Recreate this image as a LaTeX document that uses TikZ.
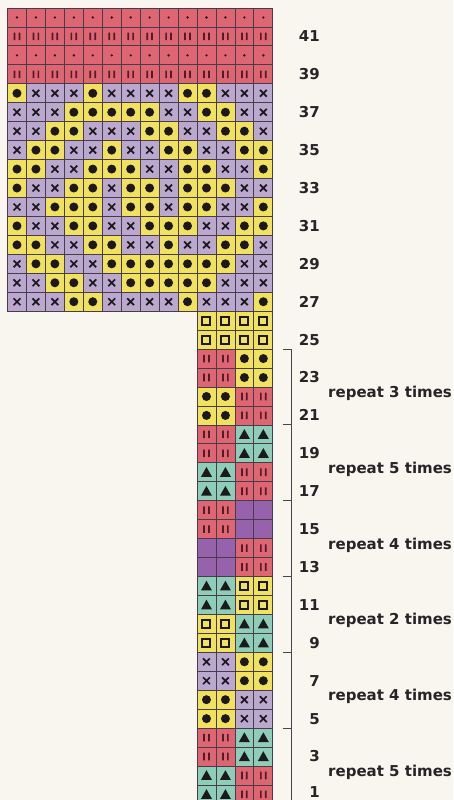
\documentclass[tikz,border=0pt]{standalone}
\usepackage{fontspec}
\setmainfont{DejaVu Sans}
\definecolor{bg}{RGB}{248,246,238}
\definecolor{pk}{RGB}{222,102,114}
\definecolor{yl}{RGB}{240,226,94}
\definecolor{lv}{RGB}{186,168,206}
\definecolor{tl}{RGB}{142,206,184}
\definecolor{pu}{RGB}{150,98,172}
\definecolor{gl}{RGB}{72,60,74}
\definecolor{sym}{RGB}{28,24,28}
\definecolor{bar}{RGB}{80,28,38}
\definecolor{txt}{RGB}{38,36,38}
\def\S{18.95}
\def\gx{7.5}
\def\gy{8}
\def\h{9.475}
\tikzset{
  cellline/.style={draw=gl,line width=0.8pt},
  num/.style={font=\bfseries\fontsize{15}{18}\selectfont,text=txt,inner sep=0pt},
  rep/.style={font=\bfseries\fontsize{15}{18}\selectfont,text=txt,inner sep=0pt,anchor=base west},
  brk/.style={draw=txt!85,line width=0.9pt}
}
\newcommand\bgcell[1]{\filldraw[fill=#1,cellline] (-\h,-\h) rectangle (\h,\h);}
\newcommand\symP{\bgcell{pk}\fill[sym] (0,0) circle (1.3pt);}
\newcommand\symB{\bgcell{pk}\fill[bar] (-3.3,-3.8) rectangle (-1.6,3.8) (1.6,-3.8) rectangle (3.3,3.8);}
\newcommand\symD{\bgcell{yl}\fill[sym] (0,0) circle (4.5pt);}
\newcommand\symX{\bgcell{lv}\draw[sym,line width=1.7pt] (-3.4,-3.4) -- (3.4,3.4) (-3.4,3.4) -- (3.4,-3.4);}
\newcommand\symQ{\bgcell{yl}\draw[sym,line width=2pt] (-4,-4) rectangle (4,4);}
\newcommand\symT{\bgcell{tl}\fill[sym] (-5.5,4.5) -- (5.5,4.5) -- (0,-5.3) -- cycle;}
\newcommand\symU{\bgcell{pu}}
\newcommand\cellat[3]{%
  \pgfmathsetmacro\cx{\gx+(#1-0.5)*\S}%
  \pgfmathsetmacro\cy{\gy+(42-#2+0.5)*\S}%
  \begin{scope}[shift={(\cx,\cy)}]\csname sym#3\endcsname\end{scope}}
\begin{document}
\begin{tikzpicture}[x=1pt,y=-1pt]
\useasboundingbox (0,0) rectangle (453,800);
\fill[bg] (0,0) rectangle (453,800);
% top chart
\foreach \r/\row in {
 42/{P,P,P,P,P,P,P,P,P,P,P,P,P,P},
 41/{B,B,B,B,B,B,B,B,B,B,B,B,B,B},
 40/{P,P,P,P,P,P,P,P,P,P,P,P,P,P},
 39/{B,B,B,B,B,B,B,B,B,B,B,B,B,B},
 38/{D,X,X,X,D,X,X,X,X,D,D,X,X,X},
 37/{X,X,X,D,D,D,D,D,X,X,D,D,X,X},
 36/{X,X,D,D,X,X,X,D,D,X,X,D,D,X},
 35/{X,D,D,X,X,D,X,X,D,D,X,X,D,D},
 34/{D,D,X,X,D,D,D,X,X,D,D,X,X,D},
 33/{D,X,X,D,D,X,D,D,X,D,D,D,X,X},
 32/{X,X,D,D,D,X,D,D,X,D,D,X,X,D},
 31/{D,X,X,D,D,X,X,D,D,D,X,X,D,D},
 30/{D,D,X,X,D,D,X,X,D,X,X,D,D,X},
 29/{X,D,D,X,X,D,D,D,D,D,D,D,X,X},
 28/{X,X,D,D,X,X,D,D,D,D,D,X,X,X},
 27/{X,X,X,D,D,X,X,X,X,D,X,X,X,D}}{
  \foreach \t [count=\c] in \row {\cellat{\c}{\r}{\t}}
}
% strip
\foreach \r/\row in {
 26/{Q,Q,Q,Q},25/{Q,Q,Q,Q},
 24/{B,B,D,D},23/{B,B,D,D},
 22/{D,D,B,B},21/{D,D,B,B},
 20/{B,B,T,T},19/{B,B,T,T},
 18/{T,T,B,B},17/{T,T,B,B},
 16/{B,B,U,U},15/{B,B,U,U},
 14/{U,U,B,B},13/{U,U,B,B},
 12/{T,T,Q,Q},11/{T,T,Q,Q},
 10/{Q,Q,T,T},9/{Q,Q,T,T},
 8/{X,X,D,D},7/{X,X,D,D},
 6/{D,D,X,X},5/{D,D,X,X},
 4/{B,B,T,T},3/{B,B,T,T},
 2/{T,T,B,B},1/{T,T,B,B}}{
  \foreach \t [count=\c] in \row {\cellat{\c+10}{\r}{\t}}
}
% row numbers
\foreach \r in {41,39,...,1}{
  \pgfmathsetmacro\yc{min(\gy+(42-\r+0.5)*\S+5.4,797.5)}
  \node[num,anchor=base east] (n\r) at (320,\yc) {\r};
}
% bracket
\foreach \k in {0,...,5}{
  \pgfmathsetmacro\yk{\gy+(18+4*\k)*\S}
  \coordinate (tl\k) at (283,\yk);
  \coordinate (tr\k) at (291.7,\yk);
}
\coordinate (bend) at (291.7,800);
\draw[brk] (tl0) -- (tr0) -- (bend);
\foreach \k in {1,...,5}{\draw[brk] (tl\k) -- (tr\k);}
% repeat labels
\foreach \k/\n in {0/3,1/5,2/4,3/2,4/4,5/5}{
  \pgfmathsetmacro\yb{\gy+(20+4*\k)*\S+10.5}
  \node[rep] (rep\k) at (328,\yb) {repeat \n\ times};
}
\end{tikzpicture}
\end{document}
